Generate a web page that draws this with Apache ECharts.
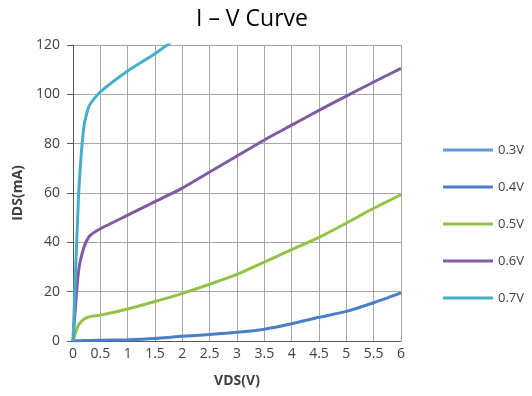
<!DOCTYPE html>
<html>
<head>
<meta charset="utf-8">
<script src="https://cdn.jsdelivr.net/npm/echarts@6/dist/echarts.min.js"></script>
<style>
  html, body { margin: 0; padding: 0; background: #fff; }
  #chart { width: 532px; height: 396px; }
</style>
</head>
<body>
<div id="chart"></div>
<script>
// drain voltage points (V)
const vds = [0, 0.1, 0.2, 0.3, 0.5, 1, 1.5, 2, 2.5, 3, 3.5, 4, 4.5, 5, 5.5, 6];

// drain current per gate voltage (mA); 0.3V is not visible in the plot
const ids03 = [null, null, null, null, null, null, null, null, null, null, null, null, null, null, null, null];
const ids04 = [0, 0.1, 0.2, 0.2, 0.3, 0.5, 1, 1.9, 2.6, 3.5, 4.8, 7, 9.6, 12, 15.5, 19.5];
const ids05 = [0, 6.5, 8.8, 9.8, 10.5, 13, 16, 19.3, 23, 27, 32, 37, 42, 47.8, 53.8, 59.3];
const ids06 = [0, 28, 38, 42.5, 45.5, 51, 56.5, 62, 68.5, 75, 81.5, 87.5, 93.5, 99.3, 105, 110.5];
const ids07 = [0, 58, 87, 95.5, 101, 109.5, 116.5, 124.5, null, null, null, null, null, null, null, null];

const seriesNames = ['0.3V', '0.4V', '0.5V', '0.6V', '0.7V'];
const seriesColors = ['#5B9BD5', '#4A7EC8', '#92C347', '#7F5BA6', '#45AFCB'];
const seriesData = [ids03, ids04, ids05, ids06, ids07];

const xTicks = ['0', '0.5', '1', '1.5', '2', '2.5', '3', '3.5', '4', '4.5', '5', '5.5', '6'];

const font = 'Open Sans, Noto Sans, sans-serif';

var myChart = echarts.init(document.getElementById('chart'), null, { renderer: 'canvas' });

var option = {
  animation: false,
  title: {
    text: 'I – V Curve',
    left: 196,
    top: 8,
    padding: 0,
    textStyle: { fontFamily: font, fontSize: 23, fontWeight: 'normal', color: '#000' }
  },
  grid: { left: 73, right: 131, top: 45, bottom: 55 },
  legend: {
    orient: 'vertical',
    left: 443,
    top: 143,
    padding: 0,
    icon: 'rect',
    itemWidth: 50,
    itemHeight: 3,
    itemGap: 23,
    textStyle: { fontFamily: font, fontSize: 13, color: '#404040', lineHeight: 14 },
    data: seriesNames
  },
  xAxis: {
    type: 'value',
    min: 0,
    max: 6,
    interval: 0.5,
    name: 'VDS(V)',
    nameLocation: 'middle',
    nameGap: 33,
    nameTextStyle: { fontFamily: font, fontSize: 14, fontWeight: 'bold', color: '#404040' },
    axisLine: { lineStyle: { color: '#595959', width: 1 } },
    axisTick: { show: false },
    axisLabel: {
      fontFamily: font, fontSize: 14, color: '#404040', margin: 6,
      formatter: v => xTicks[Math.round(v * 2)]
    },
    splitLine: { show: true, lineStyle: { color: '#A6A6A6', width: 1 } }
  },
  yAxis: {
    type: 'value',
    min: 0,
    max: 120,
    interval: 20,
    name: 'IDS(mA)',
    nameLocation: 'middle',
    nameGap: 48,
    nameTextStyle: { fontFamily: font, fontSize: 14, fontWeight: 'bold', color: '#404040' },
    axisLine: { show: true, lineStyle: { color: '#595959', width: 1 } },
    axisTick: { show: true, length: 6, lineStyle: { color: '#595959' } },
    axisLabel: { fontFamily: font, fontSize: 14, color: '#404040', margin: 13 },
    splitLine: { show: true, lineStyle: { color: '#A6A6A6', width: 1 } }
  },
  series: seriesNames.map((name, i) => ({
    name: name,
    type: 'line',
    data: vds.map((x, j) => [x, seriesData[i][j]]),
    showSymbol: false,
    symbol: 'none',
    smooth: 0.2,
    clip: true,
    connectNulls: false,
    color: seriesColors[i],
    lineStyle: { width: 3, color: seriesColors[i] }
  }))
};

myChart.setOption(option);
</script>
</body>
</html>
